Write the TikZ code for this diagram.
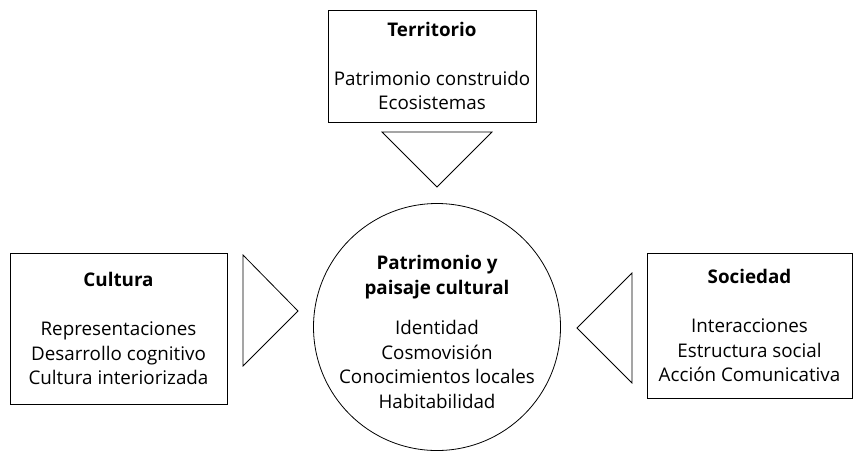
\documentclass[tikz,border=0pt]{standalone}
\usepackage{fontspec}
\setmainfont{Open Sans}

\tikzset{
  caja/.style={draw, inner sep=0pt, align=center},
  texto/.style={align=center, inner sep=0pt}
}

\begin{document}
\begin{tikzpicture}[x=1pt,y=-1pt,line width=0.8pt,
  font=\fontsize{18.8}{24.5}\selectfont]
\useasboundingbox (0,0) rectangle (853,451);

\node[caja, minimum width=208pt, minimum height=112pt] (terr) at (432,66)
  {\textbf{Territorio}\\[24.5pt]Patrimonio construido\\Ecosistemas};
\node[caja, minimum width=217pt, minimum height=151pt] (cult) at (118.5,328.5)
  {\textbf{Cultura}\\[24.5pt]Representaciones\\Desarrollo cognitivo\\Cultura interiorizada};
\node[caja, minimum width=205pt, minimum height=145pt] (soc) at (749.5,325.5)
  {\textbf{Sociedad}\\[24.5pt]Interacciones\\Estructura social\\Acción Comunicativa};

\node[draw, circle, inner sep=0pt, minimum size=247pt] (pais) at (437,327) {};
\node[texto] (paistxt) at (437,332)
  {\textbf{Patrimonio y}\\\textbf{paisaje cultural}\\[16pt]Identidad\\Cosmovisión\\Conocimientos locales\\Habitabilidad};

% flechas
\draw (382,132) -- (492,132) -- (437,187) -- cycle;
\draw (243,255) -- (298,311) -- (243,366) -- cycle;
\draw (632,273) -- (577,328) -- (632,383) -- cycle;
\end{tikzpicture}
\end{document}
